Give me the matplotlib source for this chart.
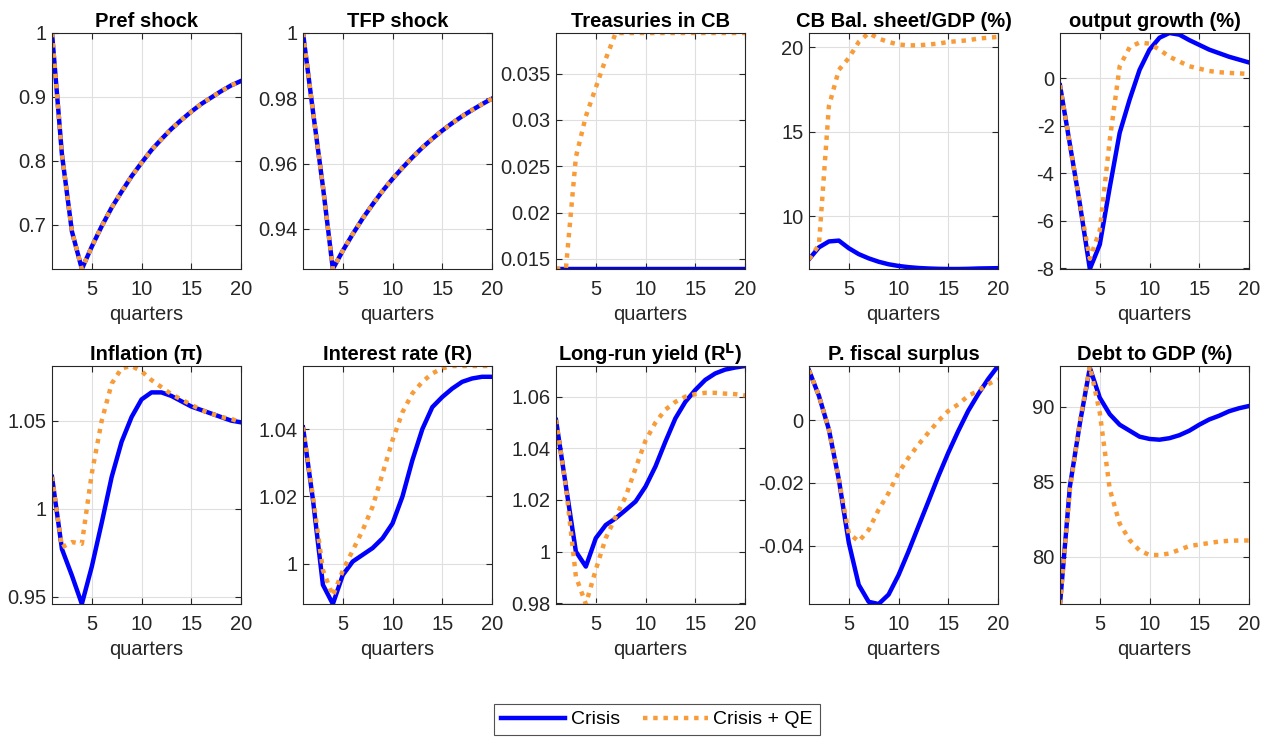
import numpy as np
import matplotlib
matplotlib.use('Agg')
import matplotlib.pyplot as plt
from matplotlib.ticker import FuncFormatter

plt.rcParams['font.family'] = ['Liberation Sans', 'DejaVu Sans']

quarters = np.arange(1, 21)

titles = ['Pref shock', 'TFP shock', 'Treasuries in CB', 'CB Bal. sheet/GDP (%)',
          'output growth (%)', 'Inflation (π)', 'Interest rate (R)',
          r'Long-run yield (R$^{\mathbf{L}}$)', 'P. fiscal surplus', 'Debt to GDP (%)']

pref = [1.0, 0.81, 0.69, 0.631, 0.666, 0.698, 0.727, 0.752, 0.776, 0.797,
        0.817, 0.834, 0.850, 0.864, 0.877, 0.889, 0.899, 0.909, 0.918, 0.925]
tfp = [1.0, 0.976, 0.953, 0.9277, 0.9333, 0.9384, 0.9432, 0.9475, 0.9516, 0.9553,
       0.9587, 0.9619, 0.9649, 0.9676, 0.9701, 0.9724, 0.9745, 0.9764, 0.9782, 0.9799]

treas_crisis = [0.0139, 0.0139, 0.0139, 0.0139, 0.0139, 0.0139, 0.0139, 0.0139, 0.0139, 0.0139,
                0.0139, 0.0139, 0.0139, 0.0139, 0.0139, 0.0139, 0.0139, 0.0139, 0.0139, 0.0139]
treas_qe = [0.0139, 0.0140, 0.0260, 0.0304, 0.0335, 0.0366, 0.0394, 0.0394, 0.0394, 0.0394,
            0.0394, 0.0394, 0.0394, 0.0394, 0.0394, 0.0394, 0.0394, 0.0394, 0.0394, 0.0394]

cbbal_crisis = [7.45, 8.15, 8.5, 8.55, 8.1, 7.75, 7.5, 7.3, 7.15, 7.05,
                6.98, 6.93, 6.9, 6.88, 6.87, 6.87, 6.88, 6.9, 6.91, 6.92]
cbbal_qe = [7.45, 8.3, 16.5, 18.65, 19.35, 20.3, 20.83, 20.5, 20.3, 20.15,
            20.1, 20.1, 20.15, 20.2, 20.3, 20.35, 20.4, 20.5, 20.55, 20.6]

growth_crisis = [-0.3, -2.8, -5.3, -8.03, -7.0, -4.6, -2.3, -0.9, 0.35, 1.2,
                 1.7, 1.9, 1.83, 1.6, 1.4, 1.2, 1.05, 0.9, 0.78, 0.66]
growth_qe = [-0.3, -2.8, -5.3, -7.6, -6.4, -2.6, 0.5, 1.3, 1.5, 1.45,
             1.2, 0.9, 0.7, 0.5, 0.4, 0.3, 0.25, 0.22, 0.2, 0.18]

infl_crisis = [1.018, 0.977, 0.962, 0.9458, 0.967, 0.992, 1.018, 1.038, 1.052, 1.062,
               1.066, 1.066, 1.064, 1.061, 1.058, 1.056, 1.054, 1.052, 1.050, 1.049]
infl_qe = [1.018, 0.978, 0.981, 0.980, 1.020, 1.050, 1.071, 1.0797, 1.081, 1.078,
           1.073, 1.069, 1.065, 1.062, 1.059, 1.056, 1.054, 1.052, 1.051, 1.049]

rate_crisis = [1.0405, 1.019, 0.9938, 0.9881, 0.9967, 1.0007, 1.0027, 1.0047, 1.0076, 1.012,
               1.020, 1.0308, 1.040, 1.0465, 1.0495, 1.052, 1.054, 1.055, 1.0555, 1.0555]
rate_qe = [1.0405, 1.020, 0.9982, 0.9905, 0.998, 1.004, 1.010, 1.017, 1.0268, 1.0367,
           1.045, 1.0506, 1.054, 1.0565, 1.058, 1.0587, 1.0587, 1.0587, 1.0587, 1.0587]

yield_crisis = [1.051, 1.0252, 1.0, 0.9942, 1.0052, 1.0103, 1.0129, 1.0161, 1.0194, 1.0252,
                1.033, 1.0426, 1.0516, 1.058, 1.0626, 1.0665, 1.069, 1.0705, 1.0713, 1.0719]
yield_qe = [1.051, 1.025, 0.9903, 0.9797, 0.993, 1.0052, 1.0135, 1.0213, 1.0323, 1.043,
            1.050, 1.055, 1.058, 1.060, 1.061, 1.0615, 1.0615, 1.0612, 1.061, 1.0605]

surplus_crisis = [0.0158, 0.0077, -0.003, -0.0189, -0.039, -0.0524, -0.0578, -0.0585, -0.0555, -0.0493,
                  -0.0418, -0.0338, -0.0259, -0.0179, -0.0104, -0.0035, 0.0029, 0.0082, 0.013, 0.0172]
surplus_qe = [0.0158, 0.0077, -0.003, -0.0189, -0.036, -0.0386, -0.0349, -0.0285, -0.0232, -0.0168,
              -0.012, -0.0078, -0.004, -0.0003, 0.0029, 0.005, 0.0077, 0.0093, 0.0114, 0.013]

debt_crisis = [76.83, 84.7, 88.9, 92.6, 90.6, 89.5, 88.8, 88.4, 88.0, 87.85,
               87.8, 87.9, 88.1, 88.4, 88.8, 89.15, 89.4, 89.7, 89.9, 90.05]
debt_qe = [76.83, 84.5, 89.0, 92.72, 89.6, 84.5, 82.2, 81.1, 80.4, 80.1,
           80.1, 80.2, 80.45, 80.7, 80.8, 80.9, 81.0, 81.05, 81.07, 81.07]

crisis = [pref, tfp, treas_crisis, cbbal_crisis, growth_crisis,
          infl_crisis, rate_crisis, yield_crisis, surplus_crisis, debt_crisis]
crisis_qe = [pref, tfp, treas_qe, cbbal_qe, growth_qe,
             infl_qe, rate_qe, yield_qe, surplus_qe, debt_qe]

yticks = [[0.7, 0.8, 0.9, 1.0], [0.94, 0.96, 0.98, 1.0],
          [0.015, 0.02, 0.025, 0.03, 0.035], [10, 15, 20], [-8, -6, -4, -2, 0],
          [0.95, 1.0, 1.05], [1.0, 1.02, 1.04], [0.98, 1.0, 1.02, 1.04, 1.06],
          [-0.04, -0.02, 0.0], [80, 85, 90]]

blue = '#0000FF'
orange = '#F89C3A'

fig = plt.figure(figsize=(12.7, 7.38), dpi=100)
W, H = 1270, 738
lefts = [52, 303, 556, 809, 1060]
rows = [(33, 269), (366, 604)]

for i in range(10):
    r, c = divmod(i, 5)
    top, bot = rows[r]
    ax = fig.add_axes([lefts[c] / W, 1 - bot / H, 189 / W, (bot - top) / H])
    l1, = ax.plot(quarters, crisis[i], color=blue, lw=3.2, label='Crisis')
    l2, = ax.plot(quarters, crisis_qe[i], color=orange, lw=3.2, ls=(0, (1, 1.3)),
                  label='Crisis + QE')
    lo = min(min(crisis[i]), min(crisis_qe[i]))
    hi = max(max(crisis[i]), max(crisis_qe[i]))
    ax.set_ylim(lo, hi)
    ax.set_xlim(1, 20)
    ax.set_xticks([5, 10, 15, 20])
    ax.set_yticks(yticks[i])
    ax.yaxis.set_major_formatter(FuncFormatter(lambda v, p: '%g' % round(v, 6)))
    ax.grid(True, color='#DFDFDF', lw=0.8)
    ax.set_axisbelow(True)
    ax.tick_params(direction='in', top=True, right=True, labelsize=14.5,
                   colors='#262626', length=4)
    ax.tick_params(axis='x', pad=8)
    ax.tick_params(axis='y', pad=4)
    for s in ax.spines.values():
        s.set_color('#262626')
        s.set_linewidth(0.8)
    ax.set_title(titles[i], fontsize=14.5, fontweight='bold', pad=4)
    ax.set_xlabel('quarters', fontsize=14.5, color='#262626', labelpad=4)

leg = fig.legend([l1, l2], ['Crisis', 'Crisis + QE'], loc='upper center',
                 bbox_to_anchor=(657 / W, 1 - 704 / H), ncol=2, fontsize=14,
                 frameon=True, fancybox=False, edgecolor='#262626',
                 handlelength=3.3, columnspacing=1.2, borderpad=0.35,
                 handletextpad=0.3, borderaxespad=0)
leg.get_frame().set_linewidth(0.8)

fig.savefig('out.png', dpi=100)
